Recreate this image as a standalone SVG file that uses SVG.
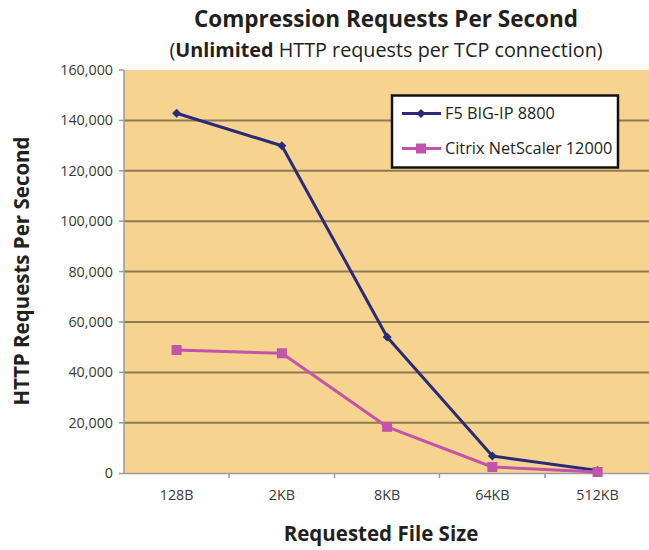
<svg xmlns="http://www.w3.org/2000/svg" width="649" height="550" viewBox="0 0 649 550">
<style>
.t{font-family:"Open Sans","Liberation Sans",sans-serif;fill:#231f20}
.title{font-size:22.5px;font-weight:bold}
.sub{font-size:19.8px}
.tick{font-size:14.3px;fill:#3a3a3a}
.axt{font-size:20.5px;font-weight:bold}
.grid{stroke:#8c7a55;stroke-width:2}
.ax{stroke:#9a9a9a;stroke-width:1.5}
.f5{fill:none;stroke:#2a2a78;stroke-width:3;stroke-linejoin:round}
.cx{fill:none;stroke:#c453aa;stroke-width:3;stroke-linejoin:round}
.leg{font-size:16.3px}
</style>
<defs>
<path id="dia" d="M0,-4.5 L4.5,0 L0,4.5 L-4.5,0Z" fill="#2a2a78"/>
<rect id="sq" x="-5" y="-5" width="10" height="10" fill="#c453aa"/>
</defs>
<rect width="649" height="550" fill="#ffffff"/>
<g id="titles">
<text class="t title" x="386" y="27" text-anchor="middle">Compression Requests Per Second</text>
<text class="t sub" x="386" y="57" text-anchor="middle">(<tspan font-weight="bold">Unlimited</tspan> HTTP requests per TCP connection)</text>
</g>
<g id="plot">
<rect x="124" y="70" width="526" height="403" fill="#f6d48f"/>
<g class="grid">
<line x1="124" y1="120.4" x2="649" y2="120.4"/>
<line x1="124" y1="170.8" x2="649" y2="170.8"/>
<line x1="124" y1="221.2" x2="649" y2="221.2"/>
<line x1="124" y1="271.6" x2="649" y2="271.6"/>
<line x1="124" y1="322" x2="649" y2="322"/>
<line x1="124" y1="372.4" x2="649" y2="372.4"/>
<line x1="124" y1="422.8" x2="649" y2="422.8"/>
</g>
<g class="ax">
<line x1="124" y1="70" x2="124" y2="473.5"/>
<line x1="124" y1="473.5" x2="649" y2="473.5"/>
<line x1="119" y1="70" x2="124" y2="70"/>
<line x1="119" y1="120.4" x2="124" y2="120.4"/>
<line x1="119" y1="170.8" x2="124" y2="170.8"/>
<line x1="119" y1="221.2" x2="124" y2="221.2"/>
<line x1="119" y1="271.6" x2="124" y2="271.6"/>
<line x1="119" y1="322" x2="124" y2="322"/>
<line x1="119" y1="372.4" x2="124" y2="372.4"/>
<line x1="119" y1="422.8" x2="124" y2="422.8"/>
<line x1="119" y1="473.5" x2="124" y2="473.5"/>
<line x1="229" y1="473.5" x2="229" y2="478"/>
<line x1="334.5" y1="473.5" x2="334.5" y2="478"/>
<line x1="439.5" y1="473.5" x2="439.5" y2="478"/>
<line x1="545" y1="473.5" x2="545" y2="478"/>
</g>
</g>
<g id="yticks" class="t tick" text-anchor="end">
<text x="113" y="75">160,000</text>
<text x="113" y="125.4">140,000</text>
<text x="113" y="175.8">120,000</text>
<text x="113" y="226.2">100,000</text>
<text x="113" y="276.6">80,000</text>
<text x="113" y="327">60,000</text>
<text x="113" y="377.4">40,000</text>
<text x="113" y="427.8">20,000</text>
<text x="113" y="478">0</text>
</g>
<g id="xticks" class="t tick" text-anchor="middle">
<text x="176.6" y="500">128B</text>
<text x="281.9" y="500">2KB</text>
<text x="387.1" y="500">8KB</text>
<text x="492.4" y="500">64KB</text>
<text x="597.6" y="500">512KB</text>
</g>
<g id="axis-titles">
<text class="t axt" x="381" y="541" text-anchor="middle">Requested File Size</text>
<text class="t axt" transform="translate(29,271) rotate(-90)" text-anchor="middle">HTTP Requests Per Second</text>
</g>
<g id="connectors">
<polyline class="f5" points="176.6,113.3 281.9,145.8 387.1,337 492.4,456 597.6,470.5"/>
<polyline class="cx" points="176.6,350 281.9,353.3 387.1,426.8 492.4,467 597.6,472"/>
</g>
<g id="series-f5">
<use href="#dia" x="176.6" y="113.3"/>
<use href="#dia" x="281.9" y="145.8"/>
<use href="#dia" x="387.1" y="337"/>
<use href="#dia" x="492.4" y="456"/>
<use href="#dia" x="597.6" y="470.5"/>
</g>
<g id="series-citrix">
<use href="#sq" x="176.6" y="350"/>
<use href="#sq" x="281.9" y="353.3"/>
<use href="#sq" x="387.1" y="426.8"/>
<use href="#sq" x="492.4" y="467"/>
<use href="#sq" x="597.6" y="472"/>
</g>
<g id="legend">
<rect x="392" y="95.5" width="226" height="72" fill="#ffffff" stroke="#111111" stroke-width="2.5"/>
<line class="f5" x1="402" y1="113.5" x2="441" y2="113.5"/>
<use href="#dia" x="421" y="113.5"/>
<text class="t leg" x="445" y="119">F5 BIG-IP 8800</text>
<line class="cx" x1="402" y1="148.5" x2="441" y2="148.5"/>
<use href="#sq" x="421" y="148.5"/>
<text class="t leg" x="445" y="154">Citrix NetScaler 12000</text>
</g>
</svg>
